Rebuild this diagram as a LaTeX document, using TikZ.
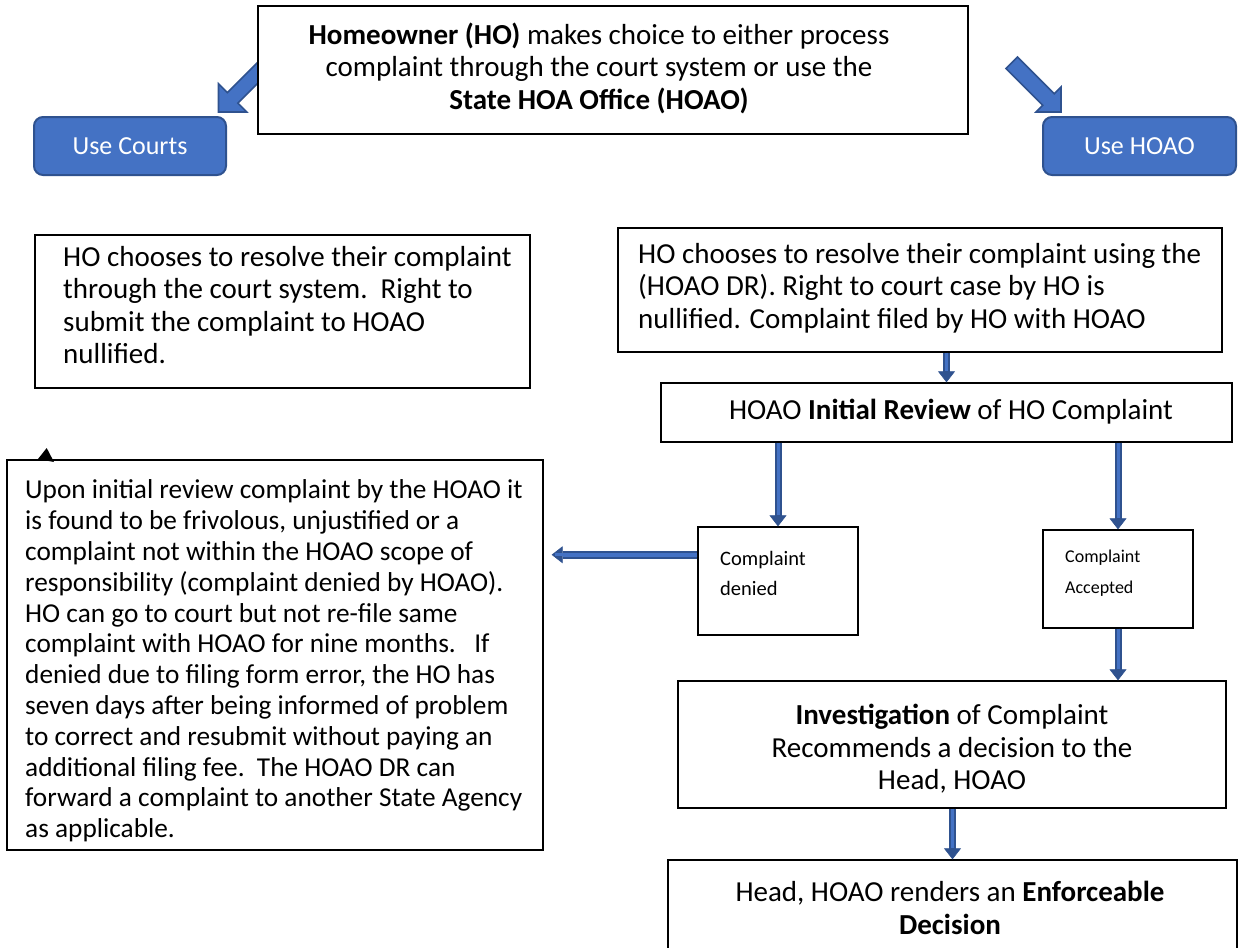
\documentclass[tikz,border=0pt]{standalone}
\usepackage{fontspec}
\setmainfont{Carlito}
\usetikzlibrary{arrows.meta,calc}
\definecolor{bfill}{HTML}{4472C4}
\definecolor{bdark}{HTML}{2F528F}
\begin{document}
\begin{tikzpicture}[x=1pt,y=-1pt,
  box/.style={draw=black, line width=1.3pt, fill=white, inner sep=0pt},
  btn/.style={draw=bdark, line width=2pt, fill=bfill, rounded corners=9pt, text=white,
    inner sep=0pt, font=\fontsize{26}{30}\selectfont},
  txt/.style={inner sep=0pt, align=left, font=\fontsize{29}{32.5}\selectfont},
  ctxt/.style={inner sep=0pt, align=center, font=\fontsize{29}{32.5}\selectfont},
  conn/.style={line width=7pt, draw=bdark,
    -{Triangle[width=17pt,length=11pt,line width=0.6pt]},
    postaction={draw=bfill, line width=3pt, -, shorten >=11pt}},
  blockarrow/.style={fill=bfill, draw=bdark, line width=1.6pt, line join=miter}
]
\useasboundingbox (0,0) rectangle (1243,948);

% block arrows at top (drawn behind the top box)
\path[blockarrow] (218.5,112) -- (246.8,112) -- (237.9,103.2) -- (276.8,64.3)
  -- (266.2,53.7) -- (227.3,92.6) -- (218.5,83.7) -- cycle;
\path[blockarrow] (1061,112) -- (1061,87) -- (1054.2,93.8) -- (1017.5,57.1)
  -- (1006.1,68.5) -- (1042.8,105.2) -- (1036,112) -- cycle;

% boxes
\node[box, minimum width=710pt, minimum height=128pt] (top) at (613,70) {};
\node[ctxt] (toptxt) at (599,68) {\textbf{Homeowner (HO)} makes choice to either process\\complaint through the court system or use the\\\textbf{State HOA Office (HOAO)}};

\node[btn, minimum width=192pt, minimum height=58pt] (courts) at (130,146) {Use Courts};
\node[btn, minimum width=193pt, minimum height=58pt] (hoao) at (1139.5,146) {Use HOAO};

\node[box, minimum width=495pt, minimum height=153pt] (lbox) at (282.5,311.5) {};
\node[txt, anchor=west] (lboxtxt) at (63,305) {HO chooses to resolve their complaint\\through the court system.\ \ Right to\\submit the complaint to HOAO\\nullified.};

\node[box, minimum width=604pt, minimum height=124pt] (rbox) at (920,290) {};
\node[txt, anchor=west] (rboxtxt) at (638,288) {HO chooses to resolve their complaint using the\\(HOAO DR). Right to court case by HO is\\nullified. Complaint filed by HO with HOAO};

\node[box, minimum width=571pt, minimum height=59pt] (review) at (946.5,412.5) {};
\node[ctxt] (reviewtxt) at (951,412) {HOAO \textbf{Initial Review} of HO Complaint};

\node[box, minimum width=160pt, minimum height=108pt] (denied) at (778,581) {};
\node[txt, anchor=west, font=\fontsize{20.5}{30}\selectfont] (deniedtxt) at (720,573) {Complaint\\denied};

\node[box, minimum width=150pt, minimum height=98pt] (accepted) at (1118,579) {};
\node[txt, anchor=west, font=\fontsize{18}{31}\selectfont] (acceptedtxt) at (1065,573) {Complaint\\Accepted};

\node[box, minimum width=536pt, minimum height=390pt] (bigbox) at (275,655) {};
\node[txt, anchor=west, font=\fontsize{27.3}{30.8}\selectfont] (bigtxt) at (25,661) {Upon initial review complaint by the HOAO it\\is found to be frivolous, unjustified or a\\complaint not within the HOAO scope of\\responsibility (complaint denied by HOAO).\\HO can go to court but not re-file same\\complaint with HOAO for nine months.\ \ \ If\\denied due to filing form error, the HO has\\seven days after being informed of problem\\to correct and resubmit without paying an\\additional filing fee.\ \ The HOAO DR can\\forward a complaint to another State Agency\\as applicable.};

\node[box, minimum width=548pt, minimum height=127pt] (invest) at (952,744.5) {};
\node[ctxt] (investtxt) at (952,749) {\textbf{Investigation} of Complaint\\Recommends a decision to the\\Head, HOAO};

\node[box, minimum width=569pt, minimum height=110pt] (head) at (952.5,915) {};
\node[ctxt] (headtxt) at (950,908) {Head, HOAO renders an \textbf{Enforceable}\\\textbf{Decision}};

% stray arrowhead
\fill (46.7,448) -- (38,459) -- (54,462) -- cycle;

% connectors
\draw[conn] (rbox.south -| review.north) -- (review.north);
\draw[conn] (review.south -| denied.north) -- (denied.north);
\draw[conn] (review.south -| accepted.north) -- (accepted.north);
\draw[conn] (accepted.south) -- (accepted.south |- invest.north);
\draw[conn] (invest.south -| head.north) -- (head.north);
\coordinate (dl) at ($(denied.north west)!0.26!(denied.south west)$);
\draw[conn, line width=8pt, -{Triangle[width=17pt,length=11pt,line width=0.6pt]},
  postaction={draw=bfill, line width=3.5pt, -, shorten >=19pt}, shorten >=8pt]
  (dl) -- (dl -| bigbox.east);
\end{tikzpicture}
\end{document}
